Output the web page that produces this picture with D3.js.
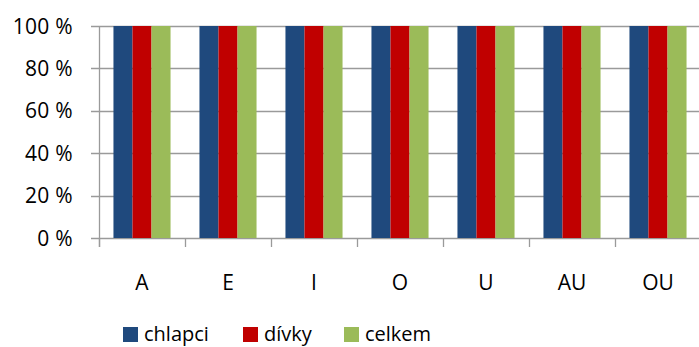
<!DOCTYPE html>
<html><head><meta charset="utf-8">
<script src="https://cdn.jsdelivr.net/npm/d3@7"></script>
<style>body{margin:0;background:#fff}svg{display:block}text{font-family:"Open Sans",sans-serif;fill:#000}</style>
</head><body>
<script>
const categories = ["A","E","I","O","U","AU","OU"];
const seriesNames = ["chlapci","dívky","celkem"];
const chlapci = [100,100,100,100,100,100,100];
const divky = [100,100,100,100,100,100,100];
const celkem = [100,100,100,100,100,100,100];
const yTicks = [0,20,40,60,80,100];
const colors = ["#1F497D","#C00000","#9BBB59"];
const seriesData = [chlapci, divky, celkem];

const W=699,H=347;
const m={left:99,top:26,right:-2,bottom:109};
const svg=d3.select("body").append("svg").attr("width",W).attr("height",H);
const x=d3.scaleBand().domain(categories).range([m.left,W-m.right]).paddingInner(0).paddingOuter(0);
const y=d3.scaleLinear().domain([0,100]).range([H-m.bottom,m.top]);
const x1=d3.scaleBand().domain(seriesNames).range([0,x.bandwidth()]).paddingInner(0).paddingOuter(0.76);

// gridlines
svg.append("g").selectAll("line").data(yTicks).join("line")
 .attr("x1",m.left-8).attr("x2",W).attr("y1",d=>Math.round(y(d))+0.5).attr("y2",d=>Math.round(y(d))+0.5)
 .attr("stroke","#9a9a9a").attr("stroke-width",1.3);

// bars
categories.forEach((c,i)=>{
  seriesNames.forEach((s,j)=>{
    svg.append("rect").attr("x",x(c)+x1(s)).attr("y",y(seriesData[j][i]))
      .attr("width",x1.bandwidth()).attr("height",y(0)-y(seriesData[j][i]))
      .attr("fill",colors[j]);
  });
});

// y axis line
svg.append("line").attr("x1",m.left+0.5).attr("x2",m.left+0.5).attr("y1",y(100)).attr("y2",y(0)+9)
 .attr("stroke","#9a9a9a").attr("stroke-width",1.3);
// x axis tick marks
svg.append("g").selectAll("line").data(categories.concat(["_end"])).join("line")
 .attr("x1",(d,i)=>Math.round(m.left+i*x.bandwidth())+0.5).attr("x2",(d,i)=>Math.round(m.left+i*x.bandwidth())+0.5)
 .attr("y1",y(0)).attr("y2",y(0)+9).attr("stroke","#9a9a9a").attr("stroke-width",1.3);

// y labels
svg.append("g").selectAll("text").data(yTicks).join("text")
 .attr("x",73).attr("y",d=>y(d)+7.5).attr("text-anchor","end").attr("font-size",21)
 .attr("letter-spacing",0.3)
 .text(d=>d+" %");

// x labels
svg.append("g").selectAll("text").data(categories).join("text")
 .attr("x",d=>x(d)+x.bandwidth()/2).attr("y",290).attr("text-anchor","middle").attr("font-size",21)
 .text(d=>d);

// legend
const legX=[123,243,344];
seriesNames.forEach((s,j)=>{
  svg.append("rect").attr("x",legX[j]).attr("y",327).attr("width",15).attr("height",15).attr("fill",colors[j]);
  svg.append("text").attr("x",legX[j]+21).attr("y",341).attr("font-size",20).text(s);
});
</script>
</body></html>
